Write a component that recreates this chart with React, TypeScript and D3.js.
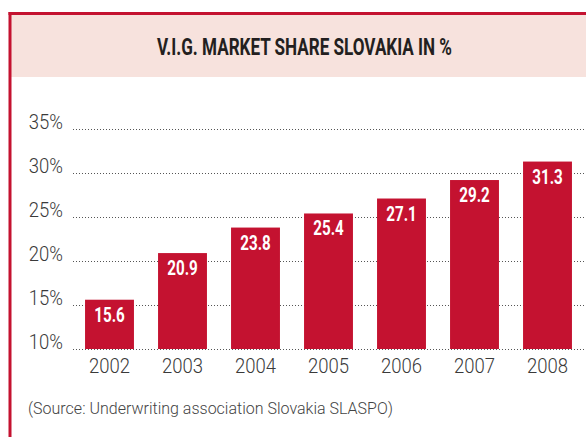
import * as d3 from "d3";
import React from "react";

const years = ["2002", "2003", "2004", "2005", "2006", "2007", "2008"];
const share = [15.6, 20.9, 23.8, 25.4, 27.1, 29.2, 31.3];
const ticks = [10, 15, 20, 25, 30, 35];

const W = 586;
const H = 437;
const red = "#c41230";
const font = "Roboto, 'Liberation Sans', sans-serif";

// narrow text: squeeze horizontally to mimic the condensed face
const Narrow = ({ x, y, sx, children, ...rest }: any) => (
  <text transform={`translate(${x},${y}) scale(${sx},1)`} {...rest}>
    {children}
  </text>
);

const App = () => {
  const x = d3
    .scaleBand()
    .domain(years)
    .range([73, 584])
    .paddingInner(0.33)
    .paddingOuter(0.165);
  const y = d3.scaleLinear().domain([10, 35]).range([349, 129]);

  return (
    <svg
      width={W}
      height={H}
      style={{ position: "absolute", left: 0, top: 0 }}
      fontFamily={font}
    >
      <rect x={0} y={0} width={W} height={H} fill="#fff" />
      {/* header */}
      <rect x={10} y={14} width={W - 10} height={63} fill="#f7e2dd" />
      <line x1={8.5} x2={W} y1={13.5} y2={13.5} stroke={red} strokeWidth={3} />
      <line x1={10} x2={10} y1={12} y2={H} stroke={red} strokeWidth={3} />
      <text
        x={157}
        y={55}
        fontSize={24}
        fontWeight="bold"
        fill="#231f20"
        textLength={295}
        lengthAdjust="spacingAndGlyphs"
      >
        V.I.G. MARKET SHARE SLOVAKIA IN %
      </text>

      {/* grid + y labels */}
      {ticks.map((t) => (
        <g key={t}>
          <line
            x1={73}
            x2={W}
            y1={y(t) + 0.5}
            y2={y(t) + 0.5}
            stroke="#555"
            strokeDasharray="1,2"
          />
          <Narrow
            x={63}
            y={y(t)}
            sx={0.88}
            textAnchor="end"
            fontSize={21}
            fontWeight={300}
            fill="#3a3a3a"
          >
            {t}%
          </Narrow>
        </g>
      ))}

      {/* bars */}
      {share.map((v, i) => {
        const cx = (x(years[i]) as number) + x.bandwidth() / 2;
        return (
          <g key={years[i]}>
            <rect
              x={x(years[i])}
              y={y(v)}
              width={x.bandwidth()}
              height={y(10) - y(v)}
              fill={red}
            />
            <Narrow
              x={cx}
              y={y(v) + 22}
              sx={0.76}
              textAnchor="middle"
              fontSize={20}
              fontWeight="bold"
              fill="#fff"
            >
              {v.toFixed(1)}
            </Narrow>
            <Narrow
              x={cx}
              y={373}
              sx={0.88}
              textAnchor="middle"
              fontSize={21}
              fontWeight={300}
              fill="#3a3a3a"
            >
              {years[i]}
            </Narrow>
          </g>
        );
      })}

      <text
        x={28}
        y={414}
        fontSize={17}
        fontWeight={300}
        fill="#444"
        textLength={365}
        lengthAdjust="spacingAndGlyphs"
      >
        (Source: Underwriting association Slovakia SLASPO)
      </text>
    </svg>
  );
};

export default App;
